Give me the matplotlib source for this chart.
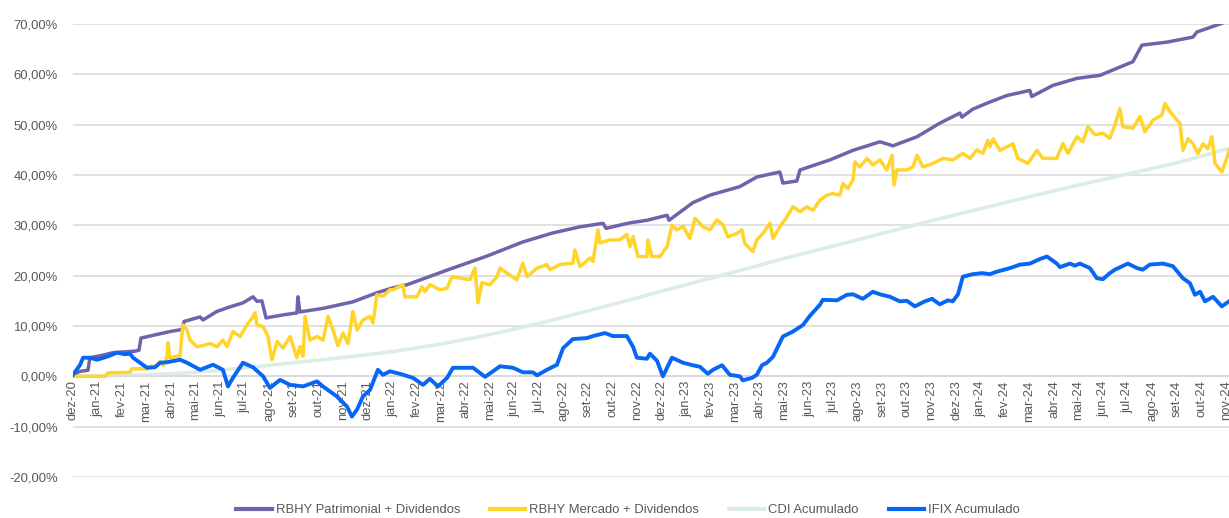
import matplotlib
matplotlib.use("Agg")
import matplotlib.pyplot as plt
from matplotlib.ticker import FuncFormatter, MultipleLocator
from matplotlib.lines import Line2D

plt.rcParams['font.family'] = ['Liberation Sans', 'DejaVu Sans']

# ---- data (x = months since Dec-2020, y = cumulative return in %) ----
month_labels = ["dez-20",
                "jan-21", "fev-21", "mar-21", "abr-21", "mai-21", "jun-21", "jul-21", "ago-21", "set-21", "out-21", "nov-21", "dez-21",
                "jan-22", "fev-22", "mar-22", "abr-22", "mai-22", "jun-22", "jul-22", "ago-22", "set-22", "out-22", "nov-22", "dez-22",
                "jan-23", "fev-23", "mar-23", "abr-23", "mai-23", "jun-23", "jul-23", "ago-23", "set-23", "out-23", "nov-23", "dez-23",
                "jan-24", "fev-24", "mar-24", "abr-24", "mai-24", "jun-24", "jul-24", "ago-24", "set-24", "out-24", "nov-24"]

patr_x = [0.00, 0.29, 0.61, 0.69, 1.22, 1.63, 2.53, 2.69, 2.77, 3.95, 4.44, 4.53, 5.18, 5.30, 5.87, 6.40,
          6.93, 7.34, 7.50, 7.70, 7.87, 8.56, 9.13, 9.17, 9.25, 10.19, 11.41, 12.39, 13.05, 13.62, 15.25,
          16.88, 18.34, 19.57, 20.67, 21.61, 21.73, 22.71, 23.40, 24.22, 24.30, 25.27, 25.97, 27.19, 27.88,
          28.82, 28.94, 29.51, 29.64, 30.86, 31.80, 32.90, 33.43, 34.41, 35.34, 36.16, 36.24, 36.69, 37.38,
          38.08, 39.01, 39.09, 39.95, 40.93, 41.87, 42.56, 43.21, 43.58, 44.60, 45.66, 45.82, 46.76, 47.13]
patr_y = [0.3, 1.0, 1.2, 3.7, 4.2, 4.7, 5.0, 5.2, 7.6, 8.9, 9.3, 10.9, 11.8, 11.2, 12.9, 13.8,
          14.6, 15.8, 14.9, 15.0, 11.6, 12.2, 12.6, 15.8, 12.8, 13.5, 14.8, 16.6, 17.6, 18.2, 21.1,
          23.9, 26.7, 28.5, 29.7, 30.4, 29.4, 30.5, 31.0, 32.0, 31.0, 34.5, 36.0, 37.7, 39.6,
          40.6, 38.4, 38.8, 41.0, 43.0, 44.9, 46.6, 45.8, 47.6, 50.3, 52.3, 51.5, 53.1, 54.5,
          55.8, 56.8, 55.6, 57.8, 59.2, 59.8, 61.2, 62.5, 65.8, 66.4, 67.4, 68.4, 70.0, 70.7]

merc_x = [0.00, 1.30, 1.43, 2.32, 2.41, 3.02, 3.14, 3.42, 3.55, 3.67, 3.83, 3.87, 3.95, 4.24, 4.36, 4.48,
          4.65, 4.77, 5.05, 5.30, 5.58, 5.87, 6.11, 6.28, 6.52, 6.81, 7.09, 7.30, 7.42, 7.50, 7.75, 7.95,
          8.11, 8.32, 8.56, 8.85, 9.13, 9.25, 9.38, 9.46, 9.66, 9.95, 10.19, 10.40, 10.60, 10.80, 11.01,
          11.21, 11.41, 11.58, 11.82, 12.11, 12.23, 12.39, 12.64, 12.92, 13.05, 13.45, 13.53, 14.02, 14.23,
          14.35, 14.55, 14.96, 15.25, 15.45, 15.78, 16.18, 16.39, 16.51, 16.67, 17.00, 17.29, 17.41, 17.69,
          18.10, 18.34, 18.51, 18.92, 19.32, 19.45, 19.85, 20.38, 20.46, 20.67, 21.08, 21.20, 21.40, 21.48,
          21.89, 22.30, 22.58, 22.71, 22.83, 23.03, 23.40, 23.44, 23.60, 23.93, 24.22, 24.42, 24.62, 24.87,
          25.15, 25.36, 25.56, 25.68, 25.97, 26.25, 26.50, 26.70, 27.07, 27.27, 27.39, 27.60, 27.72, 27.88,
          28.13, 28.41, 28.54, 28.82, 29.11, 29.35, 29.64, 29.92, 30.17, 30.45, 30.74, 30.98, 31.27, 31.39,
          31.59, 31.80, 31.88, 32.08, 32.37, 32.61, 32.90, 33.18, 33.39, 33.47, 33.59, 34.00, 34.24, 34.41,
          34.65, 35.06, 35.47, 35.87, 36.28, 36.57, 36.85, 37.10, 37.30, 37.38, 37.51, 37.79, 38.08, 38.32,
          38.52, 38.93, 39.30, 39.54, 40.11, 40.36, 40.56, 40.93, 41.17, 41.38, 41.66, 41.99, 42.27, 42.48,
          42.68, 42.80, 43.21, 43.50, 43.70, 44.03, 44.39, 44.52, 44.72, 45.01, 45.13, 45.25, 45.46, 45.66,
          45.86, 46.07, 46.27, 46.43, 46.56, 46.84, 47.05, 47.13]
merc_y = [0.0, 0.0, 0.7, 0.8, 1.5, 1.5, 2.0, 2.0, 3.0, 2.2, 3.7, 6.7, 3.7, 4.0, 4.0, 10.2,
          9.2, 7.2, 5.9, 6.1, 6.5, 5.9, 7.2, 5.9, 8.9, 7.9, 10.2, 11.6, 12.6, 10.2, 9.9, 7.9,
          3.3, 6.9, 5.6, 7.9, 3.7, 5.9, 4.0, 11.9, 7.2, 7.9, 7.2, 11.9, 9.2, 6.1, 8.6,
          6.5, 12.9, 9.2, 11.2, 11.9, 10.6, 16.2, 15.9, 17.2, 17.2, 18.2, 15.8, 15.8, 17.8,
          16.8, 18.2, 17.2, 17.5, 19.8, 19.5, 19.2, 21.5, 14.6, 18.6, 18.2, 19.8, 21.5, 20.5,
          19.2, 22.5, 19.8, 21.5, 22.2, 21.2, 22.2, 22.5, 25.1, 21.8, 23.5, 22.8, 29.1, 26.5,
          27.1, 27.1, 28.2, 25.8, 27.8, 23.8, 23.8, 27.1, 23.8, 23.8, 25.8, 30.0, 29.1, 29.8,
          27.4, 31.4, 30.4, 29.7, 29.1, 31.1, 30.1, 27.7, 28.4, 29.1, 26.4, 25.4, 24.8, 27.1,
          28.4, 30.4, 27.4, 29.7, 31.7, 33.7, 32.7, 33.7, 33.0, 35.0, 36.0, 36.3, 36.0, 38.3,
          37.3, 39.0, 42.6, 41.6, 43.3, 42.0, 43.0, 41.0, 43.9, 38.0, 41.0, 41.0, 41.6, 43.9,
          41.6, 42.3, 43.3, 43.0, 44.3, 43.3, 45.0, 44.3, 46.9, 45.6, 47.2, 44.9, 45.6, 46.2,
          43.3, 42.3, 44.9, 43.3, 43.3, 46.3, 44.3, 47.6, 46.6, 49.6, 48.0, 48.3, 47.3, 49.9,
          53.2, 49.6, 49.3, 51.6, 48.6, 50.9, 51.9, 54.2, 52.6, 50.9, 50.3, 44.9, 47.2, 46.2,
          44.3, 46.2, 45.2, 47.6, 42.3, 40.6, 43.5, 44.9]

cdi_x = [0, 2, 4, 6, 8, 10, 12, 13, 15, 17, 19, 21, 23, 25, 27, 29, 31, 33, 35, 37, 39, 41, 43, 45, 47.13]
cdi_y = [0.0, 0.2, 0.5, 1.2, 2.2, 3.2, 4.3, 4.9, 6.4, 8.3, 10.5, 13.0, 15.6, 18.2, 20.8, 23.4, 25.9,
         28.4, 30.9, 33.3, 35.7, 38.0, 40.2, 42.4, 45.3]

ifix_x = [0.00, 0.29, 0.41, 0.69, 0.98, 1.39, 1.79, 2.12, 2.32, 2.45, 2.73, 3.02, 3.34, 3.55, 3.83, 4.36,
          4.65, 5.18, 5.71, 6.11, 6.32, 6.52, 6.93, 7.34, 7.75, 8.03, 8.44, 8.85, 9.38, 9.95, 10.19, 10.76,
          11.17, 11.37, 11.58, 11.82, 12.11, 12.43, 12.64, 12.92, 13.33, 13.86, 14.27, 14.55, 14.88, 15.25,
          15.49, 16.31, 16.80, 17.41, 17.94, 18.34, 18.75, 18.92, 19.32, 19.73, 19.98, 20.38, 20.95, 21.20,
          21.69, 22.01, 22.58, 22.83, 22.99, 23.40, 23.52, 23.81, 24.05, 24.42, 24.87, 25.27, 25.56, 25.88,
          26.09, 26.46, 26.78, 27.19, 27.31, 27.68, 27.88, 28.09, 28.29, 28.54, 28.94, 29.35, 29.76, 30.04,
          30.45, 30.57, 31.15, 31.55, 31.80, 32.20, 32.61, 32.90, 33.31, 33.71, 34.00, 34.32, 34.73, 35.02,
          35.34, 35.67, 35.87, 36.08, 36.28, 36.69, 37.06, 37.38, 37.67, 38.20, 38.61, 39.01, 39.42, 39.71,
          40.11, 40.24, 40.64, 40.85, 41.05, 41.46, 41.74, 41.99, 42.27, 42.48, 43.01, 43.38, 43.62, 43.90,
          44.43, 44.84, 45.25, 45.54, 45.74, 45.95, 46.15, 46.48, 46.84, 47.13]
ifix_y = [0.3, 2.3, 3.7, 3.7, 3.3, 3.9, 4.7, 4.4, 4.5, 3.7, 2.7, 1.7, 1.8, 2.7, 2.8, 3.3,
          2.7, 1.3, 2.3, 1.3, -2.0, -0.3, 2.7, 1.8, 0.0, -2.3, -0.7, -1.7, -2.0, -1.0, -2.0, -4.0,
          -6.0, -8.0, -6.6, -4.0, -2.7, 1.3, 0.3, 1.0, 0.5, -0.3, -1.7, -0.5, -2.0, -0.3,
          1.7, 1.7, -0.1, 2.0, 1.7, 0.8, 0.8, 0.2, 1.3, 2.3, 5.6, 7.4, 7.6, 8.0,
          8.6, 8.0, 8.0, 5.9, 3.7, 3.5, 4.5, 3.1, 0.0, 3.7, 2.7, 2.2, 1.9, 0.5,
          1.3, 2.2, 0.3, 0.0, -0.8, -0.3, 0.3, 2.2, 2.7, 3.9, 7.9, 8.9, 10.2, 12.0,
          14.2, 15.2, 15.1, 16.2, 16.3, 15.4, 16.8, 16.3, 15.8, 14.9, 15.0, 13.9, 14.9, 15.4,
          14.3, 15.1, 14.9, 16.3, 19.8, 20.3, 20.5, 20.3, 20.8, 21.5, 22.2, 22.4, 23.3, 23.8,
          22.4, 21.7, 22.4, 22.0, 22.4, 21.5, 19.5, 19.3, 20.5, 21.2, 22.4, 21.5, 21.2, 22.2,
          22.4, 21.9, 19.5, 18.5, 16.2, 16.8, 14.9, 15.8, 13.9, 14.9]

series_names = ["RBHY Patrimonial + Dividendos", "RBHY Mercado + Dividendos", "CDI Acumulado", "IFIX Acumulado"]
series_colors = ["#6F63AC", "#FFD42B", "#DCEDE4", "#0866F5"]

# ---- figure ----
W, H = 1229, 518
fig = plt.figure(figsize=(W / 100, H / 100), dpi=100)
ax = fig.add_axes([73 / W, 1 - 477 / H, 1 - 73 / W, (477 - 24) / H])

TXT = "#595959"
ax.plot(cdi_x, cdi_y, color=series_colors[2], lw=2.6, zorder=2, solid_joinstyle='round')
ax.plot(patr_x, patr_y, color=series_colors[0], lw=2.5, zorder=3, solid_joinstyle='round')
ax.plot(merc_x, merc_y, color=series_colors[1], lw=2.5, zorder=4, solid_joinstyle='round')
ax.plot(ifix_x, ifix_y, color=series_colors[3], lw=2.8, zorder=5, solid_joinstyle='round')

ax.set_xlim(0, 47.13)
ax.set_ylim(-20, 70)
ax.yaxis.set_major_locator(MultipleLocator(10))
ax.yaxis.set_major_formatter(FuncFormatter(lambda v, p: f"{v:.2f}%".replace(".", ",")))
ax.grid(axis='y', color="#D9D9D9", lw=1.1, zorder=0)
ax.set_axisbelow(True)

for s in ["top", "right", "left"]:
    ax.spines[s].set_visible(False)
ax.spines["bottom"].set_position(("data", 0))
ax.spines["bottom"].set_color("#D9D9D9")
ax.spines["bottom"].set_linewidth(1.1)

ax.set_xticks(range(len(month_labels)))
ax.set_xticklabels(month_labels, rotation=90, ha='center', va='top')
ax.tick_params(axis='x', length=0, pad=3, labelsize=9.4, labelcolor=TXT)
ax.tick_params(axis='y', length=0, pad=11, labelsize=9.4, labelcolor=TXT)

handles = [Line2D([0], [0], color=c, lw=3) for c in series_colors]
fig.legend(handles, series_names, loc='center', bbox_to_anchor=(0.511, 1 - 510 / H), ncol=4,
           frameon=False, fontsize=9.4, labelcolor=TXT, handlelength=2.7, handletextpad=0.3,
           columnspacing=2.3)

fig.savefig("out.png", dpi=100)
